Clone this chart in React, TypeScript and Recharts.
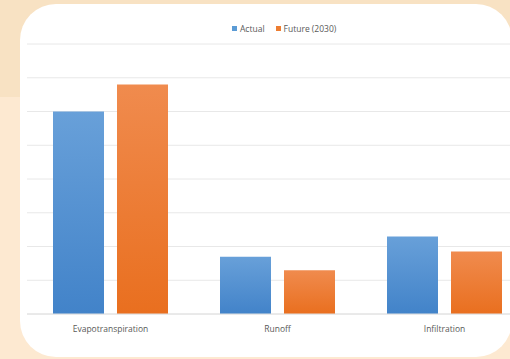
import { BarChart, Bar, XAxis, YAxis, CartesianGrid } from 'recharts'

const categories = ['Evapotranspiration', 'Runoff', 'Infiltration']
const actual = [6.0, 1.7, 2.3]
const future = [6.8, 1.3, 1.85]
const yTicks = [0, 1, 2, 3, 4, 5, 6, 7, 8]
const seriesNames = ['Actual', 'Future (2030)']
const seriesColors = ['#5b9bd5', '#ed7d31']

const data = categories.map((name, i) => ({ name, actual: actual[i], future: future[i] }))

const font = 'Open Sans, sans-serif'

export default function App() {
  return (
    <div style={{ position: 'fixed', left: 0, top: 0, width: 510, height: 359, overflow: 'hidden', background: '#fde9d1' }}>
      <div style={{ position: 'absolute', left: 0, top: 0, width: 510, height: 97, background: '#f8e2c3' }} />
      <div style={{ position: 'absolute', left: 20, top: 4, width: 492, height: 353, borderRadius: 36, background: '#ffffff' }} />
      <div style={{ position: 'absolute', left: 0, top: 0 }}>
        <BarChart
          width={560}
          height={359}
          data={data}
          margin={{ top: 44, right: 32, left: 27, bottom: 25 }}
          barCategoryGap={26}
          barGap={13}
        >
          <defs>
            <linearGradient id="gBlue" x1="0" y1="0" x2="0" y2="1">
              <stop offset="0%" stopColor="#68a0d9" />
              <stop offset="100%" stopColor="#4283c9" />
            </linearGradient>
            <linearGradient id="gOrange" x1="0" y1="0" x2="0" y2="1">
              <stop offset="0%" stopColor="#f08b4e" />
              <stop offset="100%" stopColor="#e96f1f" />
            </linearGradient>
          </defs>
          <CartesianGrid vertical={false} stroke="#e8e8e8" />
          <XAxis
            dataKey="name"
            height={20}
            axisLine={{ stroke: '#e0e0e0' }}
            tickLine={false}
            tickMargin={6}
            tick={{ fontSize: 8.5, fill: '#595959', fontFamily: font }}
          />
          <YAxis hide domain={[0, 8]} ticks={yTicks} />
          <Bar dataKey="actual" name={seriesNames[0]} fill="url(#gBlue)" isAnimationActive={false} />
          <Bar dataKey="future" name={seriesNames[1]} fill="url(#gOrange)" isAnimationActive={false} />
        </BarChart>
      </div>
      <div style={{ position: 'absolute', left: 232, top: 23, display: 'flex', alignItems: 'center', fontFamily: font, fontSize: 8.5, color: '#595959', whiteSpace: 'nowrap' }}>
        {seriesNames.map((n, i) => (
          <span key={n} style={{ display: 'flex', alignItems: 'center', marginRight: 11 }}>
            <span style={{ display: 'inline-block', width: 5, height: 5, background: seriesColors[i], marginRight: 3 }} />
            {n}
          </span>
        ))}
      </div>
    </div>
  )
}
